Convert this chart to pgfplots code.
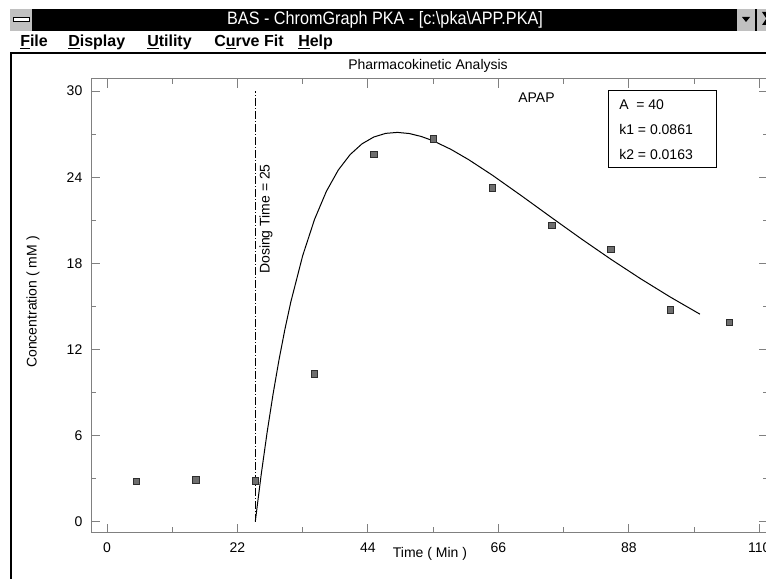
\documentclass[border=0pt]{standalone}
\usepackage{fontspec}
\setmainfont{Liberation Sans}
\usepackage{pgfplots}
\pgfplotsset{compat=1.18}
\definecolor{axgray}{RGB}{128,128,128}
\definecolor{wingray}{RGB}{192,192,192}
\definecolor{markfill}{RGB}{110,110,110}
\definecolor{markdraw}{RGB}{45,45,45}
\begin{document}
\begin{tikzpicture}
\path[use as bounding box] (0,0) rectangle (574.5pt,434.25pt);
\clip (0,0) rectangle (574.5pt,434.25pt);
\fill[white] (0,0) rectangle (574.5pt,434.25pt);
\begin{axis}[
  at={(68.25pt,34.875pt)}, anchor=south west,
  scale only axis, width=507.75pt, height=340.125pt,
  xmin=-2.698, xmax=111.47, ymin=-0.752, ymax=30.836,
  xtick={0,22,44,66,88,110}, ytick={0,6,12,18,24,30},
  minor x tick num=1, minor y tick num=1,
  tick align=inside,
  major tick length=6.75pt, minor tick length=4pt,
  axis line style={axgray, line width=0.75pt},
  every tick/.style={axgray, line width=0.75pt},
  tick label style={font=\fontsize{10.5}{12}\selectfont, black},
  xticklabel style={yshift=-4pt},
  yticklabel style={xshift=-3pt},
  /pgf/number format/assume math mode=true,
  clip=false,
]
\addplot[black, line width=0.6pt, dash pattern=on 6pt off 1.5pt on 0.75pt off 1.5pt] coordinates {(25,0) (25,30)};
\addplot[black, line width=0.75pt, mark=none] coordinates {
(25,0) (26,3.273) (27,6.223) (28,8.877) (29,11.262) (30,13.399) (31,15.310)
(33,18.531) (35,21.061) (37,23.016) (39,24.493) (41,25.571) (43,26.320)
(45,26.797) (47,27.049) (49,27.117) (51,27.036) (53,26.832) (55,26.530)
(58,25.935) (61,25.215) (65,24.132) (70,22.671) (75,21.174) (80,19.697)
(85,18.273) (90,16.920) (95,15.646) (100,14.453)};
\addplot[only marks, mark=square*, mark size=2.4pt, mark options={fill=markfill, draw=markdraw, line width=0.6pt}] coordinates {
(5,2.81) (15,2.9) (25,2.83) (35,10.3) (45,25.6) (55,26.67) (65,23.24)
(75,20.65) (85,18.98) (95,14.74) (105,13.89)};
\end{axis}
\begin{scope}[x=0.75pt, y=-0.75pt, shift={(0,434.25pt)}]
% title bar
\fill[wingray] (10,9) rectangle (32,31);
\filldraw[fill=white, draw=black, line width=0.6pt] (13,17.5) rectangle (29,21);
\fill[black] (32,9) rectangle (737,31);
\fill[wingray] (737,9) rectangle (755,31);
\fill[black] (742,17) -- (750,17) -- (746,22) -- cycle;
\fill[black] (755,9) rectangle (757,31);
\fill[wingray] (757,9) rectangle (766,31);
\fill[black] (762,12) -- (766,12) -- (766,18) -- cycle;
\fill[black] (762,25) -- (766,25) -- (766,19) -- cycle;
\node[white, font=\fontsize{13.5}{15}\selectfont, inner sep=0pt, xscale=0.9] at (385,20) {BAS - ChromGraph PKA - [c:\textbackslash pka\textbackslash APP.PKA]};
% menu
\begin{scope}[every node/.style={anchor=west, inner sep=0pt, font=\bfseries\fontsize{12}{14}\selectfont}]
\node at (20,42) {\underline{F}ile};
\node at (68,42) {\underline{D}isplay};
\node at (147,42) {\underline{U}tility};
\node at (214,42) {C\underline{u}rve Fit};
\node at (298,42) {\underline{H}elp};
\end{scope}
\draw[black, line width=1.5pt] (10,53.5) -- (766,53.5);
\draw[black, line width=1.5pt] (11,53) -- (11,579);
% chart texts
\begin{scope}[every node/.style={inner sep=0pt, font=\fontsize{10.5}{12}\selectfont}]
\node at (428,66) {Pharmacokinetic Analysis};
\node at (430,554) {Time ( Min )};
\node[rotate=90] at (33,302) {Concentration ( mM )};
\node[rotate=90] at (266,219) {Dosing Time = 25};
\node at (536.5,98) {APAP};
\node[anchor=west] at (619,105) {A \ = 40};
\node[anchor=west] at (619,129.5) {k1 = 0.0861};
\node[anchor=west] at (619,154) {k2 = 0.0163};
\end{scope}
\draw[black, line width=0.75pt] (608,91) rectangle (716,168);
\end{scope}
\end{tikzpicture}
\end{document}
